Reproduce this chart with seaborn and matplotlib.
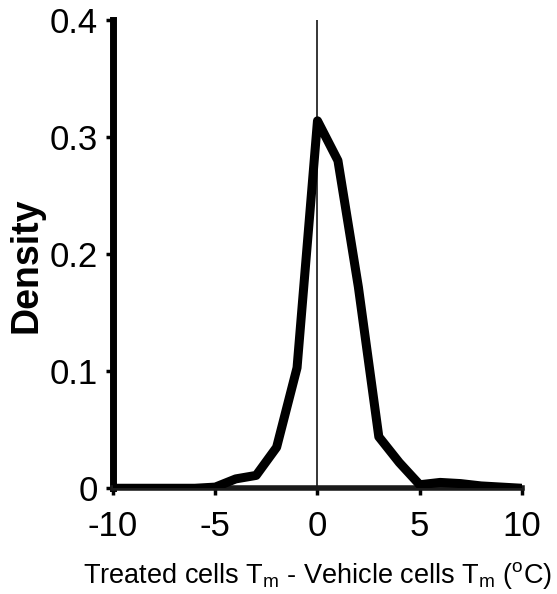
import numpy as np
import pandas as pd
import matplotlib
matplotlib.use("Agg")
import matplotlib.pyplot as plt
import seaborn as sns

# Distribution of melting-temperature shifts (treated minus vehicle)
delta_tm = [-10, -9, -8, -7, -6, -5, -4, -3, -2, -1, 0, 1, 2, 3, 4, 5, 6, 7, 8, 9, 10]
density = [0.0, 0.0, 0.0, 0.0, 0.0, 0.001, 0.008, 0.011, 0.035, 0.103, 0.314,
           0.280, 0.172, 0.044, 0.022, 0.003, 0.005, 0.004, 0.002, 0.001, 0.0]
x_ticks = [-10, -5, 0, 5, 10]
y_ticks = [0, 0.1, 0.2, 0.3, 0.4]
y_tick_labels = ["0", "0.1", "0.2", "0.3", "0.4"]

sns.set_style("white")
plt.rcParams["font.family"] = ["Liberation Sans", "DejaVu Sans"]
plt.rcParams["mathtext.fontset"] = "custom"
plt.rcParams["mathtext.rm"] = "Liberation Sans"
plt.rcParams["text.color"] = "black"
plt.rcParams["axes.labelcolor"] = "black"
plt.rcParams["xtick.color"] = "black"
plt.rcParams["ytick.color"] = "black"

df = pd.DataFrame({"delta": delta_tm, "density": density})

fig = plt.figure(figsize=(5.57, 5.94), dpi=100)
ax = fig.add_axes([0.203, 0.178, 0.734, 0.788])

# thin reference line at zero shift
ax.axvline(0, color="black", lw=1.1, zorder=1)

sns.lineplot(data=df, x="delta", y="density", ax=ax, color="black",
             lw=6.5, zorder=3, solid_joinstyle="round", solid_capstyle="round")

ax.set_xlim(-10, 10)
ax.set_ylim(0, 0.4)
ax.set_xticks(x_ticks)
ax.set_xticklabels([str(t) for t in x_ticks])
ax.set_yticks(y_ticks)
ax.set_yticklabels(y_tick_labels)

for side in ("top", "right"):
    ax.spines[side].set_visible(False)
ax.spines["left"].set_linewidth(5)
ax.spines["bottom"].set_linewidth(4)
ax.spines["left"].set_color("black")
ax.spines["bottom"].set_color("#1a1a1a")

ax.tick_params(axis="both", direction="out", length=5, width=2.5,
               labelsize=25, left=True, bottom=True)
ax.tick_params(axis="x", pad=11)
ax.tick_params(axis="y", pad=6)

ax.set_ylabel("Density", fontsize=27, fontweight="bold")
ax.yaxis.set_label_coords(-0.168, 0.476)
ax.set_xlabel(r"Treated cells T$_\mathregular{m}$ - Vehicle cells T$_\mathregular{m}$ ($^\mathregular{o}$C)",
              fontsize=19.5, labelpad=12)

fig.savefig("out.png", dpi=100)
